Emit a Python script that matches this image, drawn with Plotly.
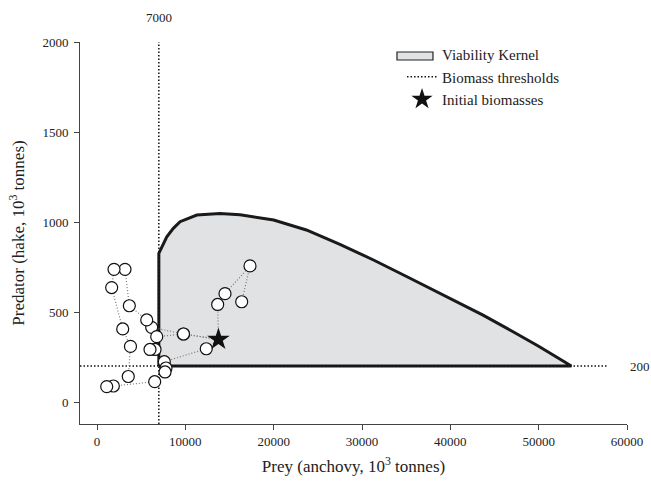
import plotly.graph_objects as go

# Viability kernel boundary (prey, predator) in 10^3 tonnes
kernel_x = [7000, 7000, 7900, 8640, 9400, 11300, 13900, 16200, 20000, 23700, 27500,
            31300, 35100, 36600, 40000, 43700, 47000, 50000, 53700, 7000]
kernel_y = [200, 826, 918, 965, 1002, 1039, 1048, 1040, 1011, 956, 876,
            789, 696, 659, 575, 483, 393, 310, 200, 200]

# Biomass thresholds
prey_threshold = 7000
pred_threshold = 200

# Initial biomasses
init_x = 13750
init_y = 348

# Trajectories (each starting at the initial biomasses)
traj_a_x = [13750, 13660, 14490, 17320, 16380]
traj_a_y = [348, 542, 602, 756, 557]
traj_b_x = [13750, 9790, 6190, 5630, 3660, 3170, 1925, 1660, 2910, 3790, 3540]
traj_b_y = [348, 378, 415, 456, 535, 737, 737, 636, 406, 309, 142]
traj_c_x = [13750, 12370, 7620, 7810, 7700, 6530, 1850, 1100]
traj_c_y = [348, 296, 224, 189, 167, 113, 89, 86]
traj_d_x = [13750, 9790, 6760, 6570, 6000]
traj_d_y = [348, 378, 363, 292, 292]

x_ticks = [0, 10000, 20000, 30000, 40000, 50000, 60000]
x_tick_text = ["0", "10000", "20000", "30000", "40000", "50000", "60000"]
y_ticks = [0, 500, 1000, 1500, 2000]
y_tick_text = ["0", "500", "1000", "1500", "2000"]

x_range = [-1925, 60000]
y_range = [-122, 2000]
h_line_end = 57750

FONT = "Liberation Serif"
FILL = "#e1e2e4"

fig = go.Figure()

# kernel
fig.add_trace(go.Scatter(x=kernel_x, y=kernel_y, mode="lines", fill="toself",
                         fillcolor=FILL, line=dict(color="#1a1a1a", width=3),
                         showlegend=False, hoverinfo="skip"))
# legend entry for kernel (symbol drawn as a shape below)
fig.add_trace(go.Scatter(x=[None], y=[None], mode="none", fill="toself",
                         fillcolor="rgba(0,0,0,0)", name="Viability Kernel"))
# thresholds
fig.add_trace(go.Scatter(x=[prey_threshold, prey_threshold, None, x_range[0], h_line_end],
                         y=[y_range[0], y_range[1], None, pred_threshold, pred_threshold],
                         mode="lines", line=dict(color="#111", width=1.5, dash="1.5px,2px"),
                         name="Biomass thresholds", cliponaxis=False))

trajs = [(traj_a_x, traj_a_y), (traj_b_x, traj_b_y), (traj_c_x, traj_c_y), (traj_d_x, traj_d_y)]
for tx, ty in trajs:
    fig.add_trace(go.Scatter(x=tx, y=ty, mode="lines",
                             line=dict(color="#777", width=1.2, dash="1px,2px"),
                             showlegend=False, hoverinfo="skip"))
for tx, ty in trajs:
    fig.add_trace(go.Scatter(x=tx[1:], y=ty[1:], mode="markers",
                             marker=dict(symbol="circle", size=12, color="white",
                                         line=dict(color="#111", width=1.2)),
                             showlegend=False))

fig.add_trace(go.Scatter(x=[init_x], y=[init_y], mode="markers",
                         marker=dict(symbol="star", size=17, color="#111",
                                     line=dict(width=0)),
                         name="Initial biomasses"))

# kernel legend symbol box
fig.add_shape(type="rect", xref="paper", yref="paper",
              x0=0.5795, x1=0.6453, y0=0.9529, y1=0.9738,
              fillcolor=FILL, line=dict(color="#222", width=1.2))

fig.add_annotation(x=prey_threshold, xref="x", y=1, yref="paper", text=str(prey_threshold),
                   showarrow=False, yanchor="bottom", yshift=15,
                   font=dict(family=FONT, size=13, color="#222"))
fig.add_annotation(x=1.0238, xref="paper", y=pred_threshold, yref="y", text=str(pred_threshold),
                   showarrow=False, xanchor="center", yanchor="middle",
                   font=dict(family=FONT, size=13, color="#222"))

fig.update_layout(
    width=651, height=486,
    margin=dict(l=80, r=24, t=42, b=62),
    plot_bgcolor="white", paper_bgcolor="white",
    font=dict(family=FONT, size=13, color="#222"),
    legend=dict(x=0.5887, y=1.0105, xanchor="left", yanchor="top",
                font=dict(family=FONT, size=15, color="#222"),
                bgcolor="rgba(0,0,0,0)", tracegroupgap=0),
    xaxis=dict(range=x_range, tickvals=x_ticks, ticktext=x_tick_text,
               showgrid=False, zeroline=False, automargin=False,
               showline=True, linecolor="#444", linewidth=1,
               ticks="outside", ticklen=5, tickcolor="#444",
               tickfont=dict(family=FONT, size=13),
               title=dict(text="Prey (anchovy, 10<sup>3</sup> tonnes)", standoff=12,
                          font=dict(family=FONT, size=17))),
    yaxis=dict(range=y_range, tickvals=y_ticks, ticktext=y_tick_text,
               showgrid=False, zeroline=False, automargin=False,
               showline=True, linecolor="#444", linewidth=1,
               ticks="outside", ticklen=5, tickcolor="#444", ticklabelstandoff=3,
               tickfont=dict(family=FONT, size=13),
               title=dict(text="Predator (hake, 10<sup>3</sup> tonnes)", standoff=13,
                          font=dict(family=FONT, size=17))),
)

fig.write_html("out.html", config={"displayModeBar": False},
               post_script="document.body.style.margin='0';")
